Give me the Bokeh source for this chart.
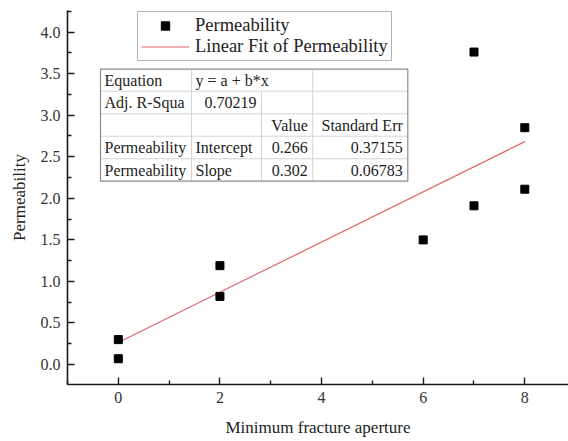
from bokeh.plotting import figure
from bokeh.models import FixedTicker, Range1d, ColumnDataSource
from bokeh.core.properties import value
from bokeh.embed import file_html
from bokeh.resources import INLINE

# ---- data ----
aperture = [0, 0, 2, 2, 6, 7, 7, 8, 8]
permeability = [0.30, 0.07, 1.19, 0.82, 1.50, 3.76, 1.91, 2.85, 2.11]
fit_intercept = 0.266
fit_slope = 0.302
fit_x = [0, 8]
fit_y = [fit_intercept + fit_slope * v for v in fit_x]

x_ticks = [0, 2, 4, 6, 8]
x_minor = [-1, 1, 3, 5, 7]
y_ticks = [0.0, 0.5, 1.0, 1.5, 2.0, 2.5, 3.0, 3.5, 4.0]
y_minor = [0.25, 0.75, 1.25, 1.75, 2.25, 2.75, 3.25, 3.75, 4.25]
y_tick_labels = ["0.0", "0.5", "1.0", "1.5", "2.0", "2.5", "3.0", "3.5", "4.0"]

table_rows = [
    ["Equation", "y = a + b*x", "", ""],
    ["Adj. R-Squa", "0.70219", "", ""],
    ["", "", "Value", "Standard Err"],
    ["Permeability", "Intercept", "0.266", "0.37155"],
    ["Permeability", "Slope", "0.302", "0.06783"],
]
table_align = [
    ["left", "left", "right", "right"],
    ["left", "right", "right", "right"],
    ["left", "left", "right", "right"],
    ["left", "left", "right", "right"],
    ["left", "left", "right", "right"],
]

FONT = "Liberation Serif"

# ---- figure ----
W, H = 568, 441
BL, BR, BT, BB = 67, 0, 10, 57
x_start, x_end = -1.0, 8.86
y_start, y_end = -0.24, 4.26

p = figure(width=W, height=H, output_backend="svg", toolbar_location=None,
           x_range=Range1d(x_start, x_end), y_range=Range1d(y_start, y_end),
           min_border_left=BL, min_border_right=BR, min_border_top=BT,
           min_border_bottom=BB, background_fill_color="white",
           border_fill_color="white")
p.outline_line_color = None
p.grid.visible = False

FW = W - BL - BR
FH = H - BT - BB
FL = BL
FB = BT + FH


def X(px):
    return x_start + (px - FL) * (x_end - x_start) / FW


def Y(py):
    return y_start + (FB - py) * (y_end - y_start) / FH


# axes
p.xaxis.ticker = FixedTicker(ticks=x_ticks, minor_ticks=x_minor)
p.yaxis.ticker = FixedTicker(ticks=y_ticks, minor_ticks=y_minor)
p.yaxis.major_label_overrides = {t: l for t, l in zip(y_ticks, y_tick_labels)}
for ax in (p.xaxis[0], p.yaxis[0]):
    ax.axis_line_width = 1.6
    ax.axis_line_color = "#1a1a1a"
    ax.major_tick_in = 7
    ax.major_tick_out = 0
    ax.minor_tick_in = 4
    ax.minor_tick_out = 0
    ax.major_tick_line_width = 1.4
    ax.minor_tick_line_width = 1.4
    ax.major_tick_line_color = "#1a1a1a"
    ax.minor_tick_line_color = "#1a1a1a"
    ax.major_label_text_font = FONT
    ax.major_label_text_font_size = "16px"
    ax.major_label_text_color = "#333333"
    ax.axis_label_text_font = FONT
    ax.axis_label_text_font_size = "17px"
    ax.axis_label_text_font_style = "normal"
    ax.axis_label_text_color = "#222222"
    ax.major_label_standoff = 7

p.xaxis.axis_label = "Minimum fracture aperture"
p.yaxis.axis_label = "Permeability"
p.xaxis.axis_label_standoff = 12
p.yaxis.axis_label_standoff = 9

# data
p.line(fit_x, fit_y, line_color="#e06666", line_width=1.2,
       legend_label="Linear Fit of Permeability")
p.scatter(aperture, permeability, marker="square", size=8, fill_color="black",
          line_color="black", legend_label="Permeability")

# legend ordering: Permeability first
leg = p.legend[0]
leg.items = [leg.items[1], leg.items[0]]
leg.location = (70, 323)
leg.padding = 3
leg.margin = 0
leg.spacing = 0
leg.label_height = 21
leg.glyph_height = 21
leg.glyph_width = 48
leg.label_standoff = 6
leg.label_text_font = FONT
leg.label_text_font_size = "18.5px"
leg.label_text_color = "#222222"
leg.border_line_color = "#666666"
leg.border_line_width = 1
leg.background_fill_color = "white"
leg.background_fill_alpha = 1.0

# ---- table (statistics box) ----
col_edges = [100, 191, 261, 312.3, 407.3]
row_edges = [68.7, 90.7, 113.3, 135.7, 158.3, 180.7]

p.quad(left=[X(col_edges[0])], right=[X(col_edges[-1])],
       top=[Y(row_edges[0])], bottom=[Y(row_edges[-1])],
       fill_color="white", line_color=None)

# inner horizontal lines
hx0, hx1, hy = [], [], []
for r in row_edges[1:-1]:
    hx0.append(X(col_edges[0]))
    hx1.append(X(col_edges[-1]))
    hy.append(Y(r))
p.segment(x0=hx0, x1=hx1, y0=hy, y1=hy, line_color="#d4d4d4", line_width=1)
# inner vertical lines
vx, vy0, vy1 = [], [], []
vx.append(X(col_edges[1])); vy0.append(Y(row_edges[0])); vy1.append(Y(row_edges[-1]))
vx.append(X(col_edges[2])); vy0.append(Y(row_edges[1])); vy1.append(Y(row_edges[-1]))
vx.append(X(col_edges[3])); vy0.append(Y(row_edges[0])); vy1.append(Y(row_edges[-1]))
p.segment(x0=vx, x1=vx, y0=vy0, y1=vy1, line_color="#d4d4d4", line_width=1)
# outer border
p.quad(left=[X(col_edges[0])], right=[X(col_edges[-1])],
       top=[Y(row_edges[0])], bottom=[Y(row_edges[-1])],
       fill_color=None, line_color="#8a8a8a", line_width=1.2)

tx, ty, tt, ta = [], [], [], []
for ri, row in enumerate(table_rows):
    cy = (row_edges[ri] + row_edges[ri + 1]) / 2
    for ci, txt in enumerate(row):
        if not txt:
            continue
        al = table_align[ri][ci]
        px = col_edges[ci] + 4 if al == "left" else col_edges[ci + 1] - 5
        tx.append(X(px)); ty.append(Y(cy)); tt.append(txt); ta.append(al)
src = ColumnDataSource(dict(x=tx, y=ty, text=tt, align=ta))
p.text(x="x", y="y", text="text", text_align="align", source=src,
       text_baseline="middle", text_font=value(FONT), text_font_size="16px",
       text_color="#222222")

open("out.html", "w").write(file_html(p, INLINE))
